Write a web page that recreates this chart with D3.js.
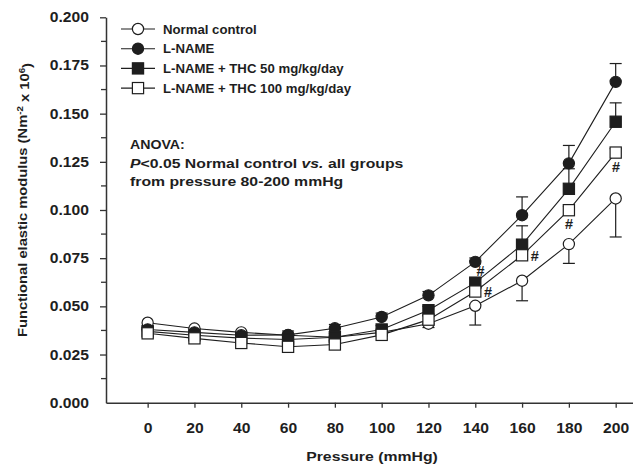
<!DOCTYPE html>
<html>
<head>
<meta charset="utf-8">
<script src="https://cdn.jsdelivr.net/npm/d3@7"></script>
<style>
  body { margin: 0; background: #fff; }
  svg { font-family: "Liberation Sans", Arial, sans-serif; font-weight: bold; }
</style>
</head>
<body>
<div id="svg"></div>
<script>
// values
const pressure = [0, 20, 40, 60, 80, 100, 120, 140, 160, 180, 200];
const normal   = [0.0415, 0.0385, 0.0365, 0.0350, 0.0340, 0.0365, 0.0410, 0.0503, 0.0633, 0.0823, 0.1060];
const lname    = [0.0380, 0.0365, 0.0350, 0.0352, 0.0386, 0.0445, 0.0557, 0.0731, 0.0973, 0.1242, 0.1665];
const thc50    = [0.0370, 0.0350, 0.0335, 0.0328, 0.0340, 0.0380, 0.0480, 0.0623, 0.0820, 0.1110, 0.1458];
const thc100   = [0.0360, 0.0334, 0.0310, 0.0290, 0.0302, 0.0352, 0.0431, 0.0577, 0.0765, 0.0999, 0.1298];
// SEM (normal control drawn downward, the others upward)
const normalErr = [0.002, 0.002, 0.002, 0.002, 0.002, 0.002, 0.002, 0.0100, 0.0104, 0.0100, 0.0200];
const lnameErr  = [0.002, 0.002, 0.002, 0.002, 0.002, 0.002, 0.002, 0.002, 0.0095, 0.0093, 0.0095];
const thc50Err  = [0.002, 0.002, 0.002, 0.002, 0.002, 0.002, 0.002, 0.002, 0.0098, 0.0104, 0.0098];
const thc100Err = [0.002, 0.002, 0.002, 0.002, 0.002, 0.002, 0.002, 0.002, 0.002, 0.002, 0.002];
const seriesNames = ["Normal control", "L-NAME", "L-NAME + THC 50 mg/kg/day", "L-NAME + THC 100 mg/kg/day"];
const yTicks = [0, 0.025, 0.05, 0.075, 0.1, 0.125, 0.15, 0.175, 0.2];
// "#" marks: series index, pressure, where it sits
const hashMarks = [
  [2, 140, "upright"], [3, 140, "right"], [3, 160, "right"],
  [3, 180, "below"], [3, 200, "below"]
];

const width = 633, height = 467;
const svg = d3.select("#svg").append("svg")
  .attr("width", width).attr("height", height);

const x = d3.scaleLinear().domain([-17.8, 207.4]).range([106, 633]);
const y = d3.scaleLinear().domain([0, 0.2]).range([402.7, 17.3]);

const ink = "#1e1e1e";

// the figure's lettering is a little wider than Arial, so stretch it
function wideText(px, py, sx, size) {
  return svg.append("text")
    .attr("transform", `translate(${px},${py}) scale(${sx},1)`)
    .attr("fill", ink).style("font-size", size + "px");
}

// axes
const tickSx = 1.12;
const gY = svg.append("g").attr("transform", "translate(106,0)")
  .call(d3.axisLeft(y).tickValues(yTicks).tickFormat(d3.format(".3f"))
    .tickSize(6).tickPadding(11).tickSizeOuter(0));
gY.selectAll(".tick").filter(d => d === 0).select("line").remove();
gY.append("g").selectAll("line")
  .data(d3.range(0, 8).map(i => yTicks[i] + 0.0125))
  .join("line")
  .attr("x1", -5).attr("x2", 0)
  .attr("y1", d => y(d)).attr("y2", d => y(d))
  .attr("stroke", "#333").attr("stroke-width", 1.3);

const gX = svg.append("g").attr("transform", "translate(0,402.7)")
  .call(d3.axisBottom(x).tickValues(pressure).tickSize(5).tickPadding(15).tickSizeOuter(0));

[gX, gY].forEach(g => {
  g.select(".domain").attr("stroke", "#333").attr("stroke-width", 1.5);
  g.selectAll(".tick line").attr("stroke", "#333").attr("stroke-width", 1.3);
  g.selectAll("text").attr("fill", ink).style("font-size", "14px")
    .style("font-family", "'Liberation Sans', Arial, sans-serif").style("font-weight", "bold")
    .attr("transform", `scale(${tickSx},1)`);
});
gY.selectAll(".tick text").attr("x", -17 / tickSx);

// axis titles
wideText(372, 461, 1.17, 13.5).attr("text-anchor", "middle").text("Pressure (mmHg)");

const yt = svg.append("text").attr("transform", "translate(27,200) rotate(-90) scale(1.09,1)")
  .attr("text-anchor", "middle").attr("fill", ink).style("font-size", "13.5px");
yt.append("tspan").text("Functional elastic modulus (Nm");
yt.append("tspan").attr("dy", "-0.45em").style("font-size", "9px").text("-2");
yt.append("tspan").attr("dy", "0.45em").text(" x 10");
yt.append("tspan").attr("dy", "-0.45em").style("font-size", "9px").text("6");
yt.append("tspan").attr("dy", "0.45em").text(")");

// series
const series = [
  { vals: normal, err: normalErr, dir: -1, shape: "circle", fill: "#fff" },
  { vals: lname, err: lnameErr, dir: 1, shape: "circle", fill: ink },
  { vals: thc50, err: thc50Err, dir: 1, shape: "square", fill: ink },
  { vals: thc100, err: thc100Err, dir: 1, shape: "square", fill: "#fff" }
];

const line = d3.line().x(d => x(d[0])).y(d => y(d[1]));

function marker(g, s, cx, cy) {
  if (s.shape === "circle") {
    g.append("circle").attr("cx", cx).attr("cy", cy).attr("r", 5.6)
      .attr("fill", s.fill).attr("stroke", ink).attr("stroke-width", 1.2);
  } else {
    g.append("rect").attr("x", cx - 5.6).attr("y", cy - 5.6).attr("width", 11.2).attr("height", 11.2)
      .attr("fill", s.fill).attr("stroke", ink).attr("stroke-width", 1.2);
  }
}

series.forEach(s => {
  const pts = pressure.map((p, i) => [p, s.vals[i], s.err[i]]);
  const g = svg.append("g");
  // error bars
  pts.forEach(d => {
    const y0 = y(d[1]), y1 = y(d[1] + s.dir * d[2]);
    g.append("line").attr("x1", x(d[0])).attr("x2", x(d[0]))
      .attr("y1", y0).attr("y2", y1).attr("stroke", ink).attr("stroke-width", 1.2);
    g.append("line").attr("x1", x(d[0]) - 6).attr("x2", x(d[0]) + 6)
      .attr("y1", y1).attr("y2", y1).attr("stroke", ink).attr("stroke-width", 1.2);
  });
  g.append("path").datum(pts).attr("d", line)
    .attr("fill", "none").attr("stroke", ink).attr("stroke-width", 1.1);
});
series.forEach(s => {
  const g = svg.append("g");
  pressure.forEach((p, i) => marker(g, s, x(p), y(s.vals[i])));
});

// hash marks
const offs = { upright: [5, -12], right: [12.5, 0], below: [0, 14] };
hashMarks.forEach(([si, p, pos]) => {
  const i = pressure.indexOf(p);
  svg.append("text")
    .attr("x", x(p) + offs[pos][0]).attr("y", y(series[si].vals[i]) + offs[pos][1])
    .attr("dy", "0.36em").attr("text-anchor", "middle")
    .attr("fill", ink).style("font-size", "14.5px").style("font-style", "italic")
    .text("#");
});

// legend
const leg = svg.append("g");
seriesNames.forEach((name, i) => {
  const ly = 29 + i * 19.7;
  leg.append("line").attr("x1", 121).attr("x2", 155).attr("y1", ly).attr("y2", ly)
    .attr("stroke", ink).attr("stroke-width", 1.1);
  marker(leg, series[i], 138, ly);
  leg.append("text").attr("x", 163).attr("y", ly).attr("dy", "0.36em")
    .attr("fill", ink).style("font-size", "13.2px").text(name);
});

// ANOVA note
wideText(130, 149, 1.05, 13.5).text("ANOVA:");
const l2 = wideText(130, 167.5, 1.17, 13.5);
l2.append("tspan").style("font-style", "italic").text("P");
l2.append("tspan").text("<0.05 Normal control ");
l2.append("tspan").style("font-style", "italic").text("vs.");
l2.append("tspan").text(" all groups");
wideText(130, 185.5, 1.17, 13.5).text("from pressure 80-200 mmHg");
</script>
</body>
</html>
